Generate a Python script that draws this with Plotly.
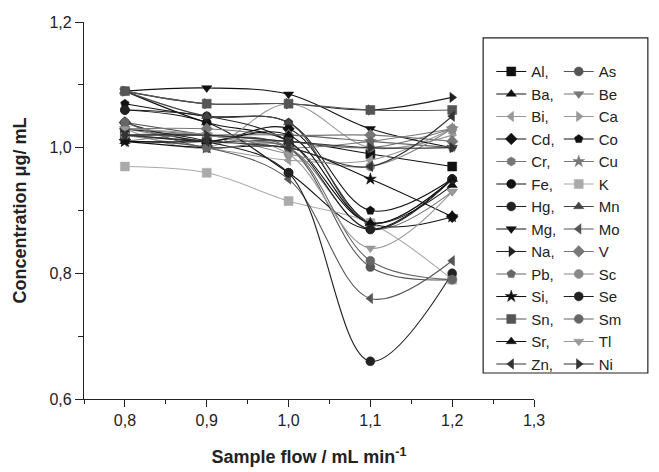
import plotly.graph_objects as go

flow = [0.8, 0.9, 1.0, 1.1, 1.2]

elements = ["Al", "As", "Ba", "Be", "Bi", "Ca", "Cd", "Co", "Cr", "Cu", "Fe", "K", "Hg", "Mn",
            "Mg", "Mo", "Na", "V", "Pb", "Sc", "Si", "Se", "Sn", "Sm", "Sr", "Tl", "Zn", "Ni"]

Al = [1.02, 1.01, 1.01, 0.99, 0.97]
As = [1.04, 1.02, 1.00, 0.81, 0.79]
Ba = [1.09, 1.04, 1.01, 0.88, 0.94]
Be = [1.03, 1.01, 1.00, 0.87, 0.93]
Bi = [1.02, 1.00, 0.98, 0.98, 1.03]
Ca = [1.03, 1.00, 1.07, 1.00, 1.02]
Cd = [1.04, 1.01, 1.03, 0.88, 0.89]
Co = [1.07, 1.05, 1.04, 0.90, 0.95]
Cr = [1.03, 1.02, 1.01, 1.00, 1.03]
Cu = [1.01, 1.02, 1.00, 1.01, 1.03]
Fe = [1.06, 1.04, 0.96, 0.87, 0.95]
K = [0.97, 0.96, 0.915, 0.88, 0.79]
Hg = [1.06, 1.05, 1.01, 0.87, 0.95]
Mn = [1.09, 1.05, 1.04, 0.88, 0.95]
Mg = [1.09, 1.095, 1.085, 1.03, 1.00]
Mo = [1.01, 1.00, 0.95, 0.76, 0.82]
Na = [1.09, 1.07, 1.07, 1.06, 1.08]
V = [1.03, 1.03, 1.02, 1.02, 1.01]
Pb = [1.02, 1.02, 1.02, 1.01, 1.00]
Sc = [1.02, 1.02, 0.99, 0.97, 1.03]
Si = [1.01, 1.00, 1.00, 0.95, 0.89]
Se = [1.03, 1.01, 0.96, 0.66, 0.80]
Sn = [1.09, 1.07, 1.07, 1.06, 1.06]
Sm = [1.04, 1.00, 1.00, 0.82, 0.79]
Sr = [1.01, 1.01, 1.02, 0.88, 0.95]
Tl = [1.03, 1.02, 0.99, 0.84, 0.93]
Zn = [1.02, 1.01, 1.00, 0.97, 1.05]
Ni = [1.02, 1.02, 1.01, 1.00, 1.00]

values = [Al, As, Ba, Be, Bi, Ca, Cd, Co, Cr, Cu, Fe, K, Hg, Mn,
          Mg, Mo, Na, V, Pb, Sc, Si, Se, Sn, Sm, Sr, Tl, Zn, Ni]

symbols = ["square", "circle", "triangle-up", "triangle-down", "triangle-left", "triangle-right",
           "diamond", "pentagon", "hexagon", "star", "circle-dot", "square", "circle", "triangle-up",
           "triangle-down", "triangle-left", "triangle-right", "diamond", "pentagon", "circle",
           "star", "circle", "square", "circle", "triangle-up", "triangle-down", "triangle-left",
           "triangle-right"]

colors = ["#111111", "#555555", "#111111", "#777777", "#999999", "#999999",
          "#111111", "#111111", "#777777", "#777777", "#111111", "#aaaaaa", "#222222", "#444444",
          "#111111", "#555555", "#222222", "#777777", "#666666", "#888888",
          "#111111", "#222222", "#555555", "#666666", "#111111", "#999999", "#333333", "#333333"]

fig = go.Figure()
for i, (name, vals) in enumerate(zip(elements, values)):
    first_col = (i % 2 == 0)
    fig.add_trace(go.Scatter(
        x=flow, y=vals,
        mode="lines+markers",
        name=(name + ",") if first_col else name,
        line=dict(color=colors[i], width=1.1, shape="spline", smoothing=1.0),
        marker=dict(symbol=symbols[i], size=9, color=colors[i],
                    line=dict(width=0.5, color=colors[i])),
        legend="legend" if first_col else "legend2",
    ))

font_family = "Liberation Sans, Arial, sans-serif"

fig.update_layout(
    width=659, height=472,
    margin=dict(l=84, r=125, t=22, b=73),
    plot_bgcolor="white", paper_bgcolor="white",
    separators=",.",
    font=dict(family=font_family, size=16, color="#222222"),
    showlegend=True,
    legend=dict(x=0.905, y=0.912, xanchor="left", yanchor="top",
                font=dict(size=15, family=font_family, color="#222222"),
                bgcolor="rgba(0,0,0,0)", borderwidth=0, tracegroupgap=0,
                itemwidth=30),
    legend2=dict(x=1.055, y=0.912, xanchor="left", yanchor="top",
                 font=dict(size=15, family=font_family, color="#222222"),
                 bgcolor="rgba(0,0,0,0)", borderwidth=0, tracegroupgap=0,
                 itemwidth=30),
    xaxis=dict(range=[0.75, 1.3], tick0=0.8, dtick=0.1, tickformat=".1f",
               showline=True, linecolor="#222222", linewidth=1.2,
               ticks="outside", ticklen=7, tickcolor="#222222", tickwidth=1.2,
               minor=dict(dtick=0.05, tick0=0.75, ticks="outside", ticklen=4,
                          tickcolor="#222222", tickwidth=1.2),
               showgrid=False, zeroline=False, automargin=False,
               tickfont=dict(size=16),
               title=dict(text="<b>Sample flow / mL min<sup>-1</sup></b>",
                          font=dict(size=18), standoff=22)),
    yaxis=dict(range=[0.6, 1.2], tick0=0.6, dtick=0.2, tickformat=".1f",
               showline=True, linecolor="#222222", linewidth=1.2,
               ticks="outside", ticklen=8, tickcolor="#222222", tickwidth=1.2,
               minor=dict(dtick=0.1, ticks="outside", ticklen=5,
                          tickcolor="#222222", tickwidth=1.2),
               showgrid=False, zeroline=False, automargin=False,
               tickfont=dict(size=16),
               title=dict(text="<b>Concentration μg/ mL</b>",
                          font=dict(size=18), standoff=18)),
    shapes=[dict(type="rect", xref="paper", yref="paper",
                 x0=0.887, x1=1.253, y0=0.069, y1=0.958,
                 line=dict(color="#222222", width=1.2), fillcolor="rgba(0,0,0,0)")],
)

fig.write_html("out.html")
